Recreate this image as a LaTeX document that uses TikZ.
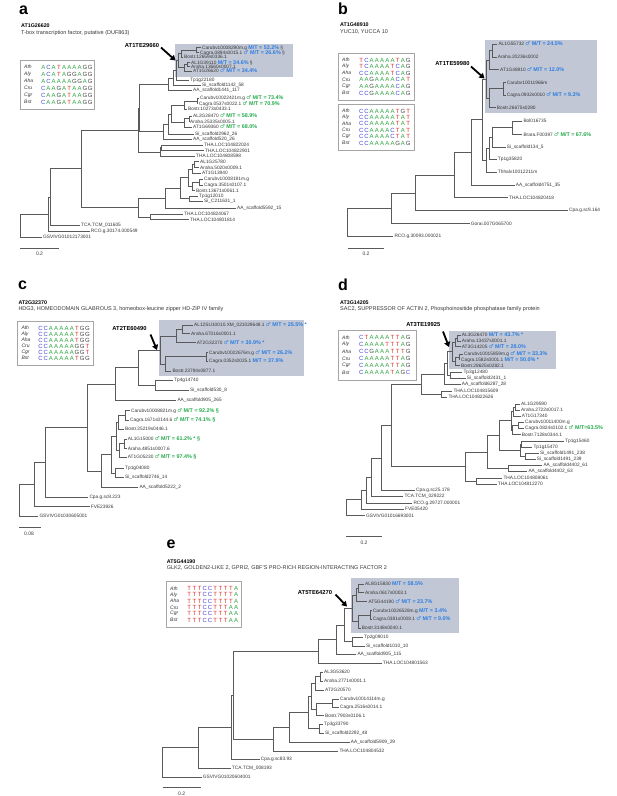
\documentclass[tikz,border=0pt]{standalone}
\usepackage{fontspec}
\setmainfont{Liberation Sans}
\newfontfamily\symfont{DejaVu Sans}
\usetikzlibrary{arrows.meta,calc}
\definecolor{teboxcol}{RGB}{193,199,212}
\definecolor{mtblue}{RGB}{45,125,225}
\definecolor{mtgreen}{RGB}{35,170,75}
\definecolor{brgrey}{RGB}{90,90,90}
\definecolor{labgrey}{RGB}{55,55,55}
\definecolor{boxgrey}{RGB}{165,165,165}
\definecolor{ntAcol}{RGB}{45,165,65}
\definecolor{ntCcol}{RGB}{70,70,215}
\definecolor{ntGcol}{RGB}{70,70,70}
\definecolor{ntTcol}{RGB}{220,45,45}
\newcommand\malesym{{\symfont\char"2642}}
\newcommand\mtb[1]{{\fontsize{5.4}{6}\selectfont\bfseries\color{mtblue}#1}}
\newcommand\mtg[1]{{\fontsize{5.4}{6}\selectfont\bfseries\color{mtgreen}#1}}
\newcommand\ntA{\textcolor{ntAcol}{A}}
\newcommand\ntC{\textcolor{ntCcol}{C}}
\newcommand\ntG{\textcolor{ntGcol}{G}}
\newcommand\ntT{\textcolor{ntTcol}{T}}
\makeatletter
\newcommand\dnaseq[1]{\dnaseq@#1\relax}
\def\dnaseq@#1{\ifx\relax#1\else\makebox[5.2pt]{\csname nt#1\endcsname}\expandafter\dnaseq@\fi}
\makeatother
\newcommand\leafat[4]{\coordinate (#1) at (#2,#3);\node[leaf] (#1L) at (#1) {#4};}
\newcommand\joinat[4]{%
  \coordinate (tmpa) at ($(#3)!0.5!(#4)$);
  \path let \p1=(tmpa) in coordinate (#1) at (#2pt,\y1);
  \draw[br] (#1) |- (#3);
  \draw[br] (#1) |- (#4);}
\newcommand\alrow[5]{\node[spl] (#1s) at (#2+4,#3) {#4};\node[sql] (#1q) at (#2+20.5,#3) {\dnaseq{#5}};}
\tikzset{
  br/.style={draw=brgrey,line width=0.75pt},
  tebox/.style={fill=teboxcol},
  leaf/.style={anchor=west,inner sep=0pt,xshift=1pt,text=labgrey,font=\fontsize{4.8}{5}\selectfont},
  spl/.style={anchor=west,inner sep=0pt,text=labgrey,font=\fontsize{5}{5}\selectfont\itshape},
  sql/.style={anchor=west,inner sep=0pt,font=\fontsize{6}{6}\selectfont},
  albox/.style={draw=boxgrey,line width=0.8pt,fill=white},
  plet/.style={anchor=base west,inner sep=0pt,font=\fontsize{16}{16}\selectfont\bfseries},
  ttl/.style={anchor=west,inner sep=0pt,font=\fontsize{5.3}{6}\selectfont\bfseries},
  dsc/.style={anchor=west,inner sep=0pt,text=labgrey,font=\fontsize{5.5}{6}\selectfont},
  tel/.style={inner sep=0pt,font=\fontsize{5.8}{6}\selectfont\bfseries},
  bigarrow/.style={-{Triangle[length=5pt,width=6pt]},line width=1.8pt,black},
  scl/.style={draw=brgrey,line width=0.8pt},
  sclab/.style={inner sep=0pt,text=labgrey,font=\fontsize{5}{5}\selectfont}
}
\begin{document}
\begin{tikzpicture}[x=1pt,y=-1pt]
\useasboundingbox[fill=white] (0,0) rectangle (617,796);

%%%%%%%%%%%%%%%% PANEL A
\node[plet] (aLet) at (19,14) {a};
\node[ttl] (aT1) at (21,25.7) {AT1G26620};
\node[dsc] (aT2) at (21,33) {T-box transcription factor, putative (DUF863)};
\draw[albox] (20,60) rectangle (94,109);
\alrow{aR1}{20}{67}{Ath}{ACATAAAAGG}
\alrow{aR2}{20}{74}{Aly}{ACATAGGAGG}
\alrow{aR3}{20}{81}{Aha}{ACAAAAGGAG}
\alrow{aR4}{20}{88}{Cru}{CAAGATAAGG}
\alrow{aR5}{20}{95}{Cgr}{CAAGATAAGG}
\alrow{aR6}{20}{102}{Bst}{CAAGATAAGG}
\path[tebox] (175,43.5) rectangle (293,77);
\leafat{a1}{201}{47.7}{Carubv10008290m.g \mtb{M/T = 53.2\%} \S}
\leafat{a2}{199}{52.7}{Cagra.0894s0015.1 \mtb{\malesym\ M/T = 26.6\%} \S}
\leafat{a3}{183}{57.3}{Bostr.12659s0336.1}
\leafat{a4}{190}{62.3}{AL1G39110 \mtb{M/T = 34.6\%} \S}
\leafat{a5}{190}{66.7}{Araha.13660s0007.1}
\leafat{a6}{192}{71}{AT1G26620 \mtb{\malesym\ M/T = 34.4\%}}
\leafat{a7}{189}{80.7}{Tp1g22180}
\leafat{a8}{201}{85.7}{Si\_scaffold1142\_58}
\leafat{a9}{192}{90.7}{AA\_scaffold1441\_117}
\leafat{a10}{199}{98.3}{Carubv10022421m.g \mtg{\malesym\ M/T = 73.4\%}}
\leafat{a11}{198}{103.7}{Cagra.0537s0022.1 \mtg{\malesym\ M/T = 70.9\%}}
\leafat{a12}{187}{109}{Bostr.10273s0433.1}
\leafat{a13}{192}{116}{AL2G28470 \mtg{\malesym\ M/T = 58.9\%}}
\leafat{a14}{189}{121.3}{Araha.25335s0005.1}
\leafat{a15}{192}{127}{AT1G69360 \mtg{\malesym\ M/T = 68.0\%}}
\leafat{a16}{194}{134}{Si\_scaffold2962\_26}
\leafat{a17}{192}{139.3}{AA\_scaffold520\_26}
\leafat{a18}{203}{145}{THA.LOC104822024}
\leafat{a19}{204}{150.7}{THA.LOC104822901}
\leafat{a20}{195}{156.3}{THA.LOC104808598}
\leafat{a21}{199}{161.7}{AL1G25780}
\leafat{a22}{199}{167.7}{Araha.5020s0009.1}
\leafat{a23}{201}{173.3}{AT1G13940}
\leafat{a24}{203}{179.3}{Carubv10008191m.g}
\leafat{a25}{203}{185}{Cagra.3501s0107.1}
\leafat{a26}{195}{190.7}{Bostr.13671s0061.1}
\leafat{a27}{198}{196}{Tp1g12010}
\leafat{a28}{203}{201.7}{Si\_C211631\_1}
\leafat{a29}{236}{208}{AA\_scaffold5592\_15}
\leafat{a30}{183}{214.3}{THA.LOC104824067}
\leafat{a31}{189}{219.7}{THA.LOC104801814}
\leafat{a32}{80}{225}{TCA.TCM\_011605}
\leafat{a33}{89.7}{231.7}{RCO.g.30174.000549}
\leafat{a34}{42}{237.3}{GSVIVG01012173001}
\joinat{ac1}{196.7}{a1}{a2}
\joinat{ac2}{181.7}{ac1}{a3}
\joinat{ac3}{187.7}{a4}{a5}
\joinat{ac4}{184.3}{ac3}{a6}
\joinat{ac5}{178.3}{ac2}{ac4}
\joinat{ac6}{176}{ac5}{a7}
\joinat{ac7}{173.3}{ac6}{a8}
\joinat{ac8}{168.3}{ac7}{a9}
\joinat{am1}{197}{a10}{a11}
\joinat{am2}{184.3}{am1}{a12}
\joinat{am3}{189.3}{a13}{a14}
\joinat{am4}{184.3}{am3}{a15}
\joinat{am5}{171.7}{am2}{am4}
\joinat{am6}{168.3}{am5}{a16}
\joinat{am7}{163.3}{am6}{a17}
\joinat{ap1}{139.3}{ac8}{am7}
\joinat{at1}{161.7}{a18}{a19}
\joinat{at2}{160}{at1}{a20}
\joinat{ap2}{138}{ap1}{at2}
\joinat{al1}{194.3}{a21}{a22}
\joinat{al2}{192.7}{al1}{a23}
\joinat{al3}{199.3}{a24}{a25}
\joinat{al4}{192.7}{al3}{a26}
\joinat{al5}{188.3}{al2}{al4}
\joinat{al6}{189.3}{a27}{a28}
\joinat{al7}{180}{al5}{al6}
\joinat{al8}{165.7}{al7}{a29}
\joinat{al9}{150}{a30}{a31}
\joinat{alr}{138.3}{al8}{al9}
\joinat{arr}{81.7}{ap2}{alr}
\joinat{ass}{50}{arr}{a32}
\joinat{att}{48}{ass}{a33}
\joinat{aroot}{20}{att}{a34}
\node[tel] (aTE) at (142,45.5) {AT1TE29660};
\coordinate (aAs) at (161,47.5); \coordinate (aAe) at (175.5,60.5);
\draw[bigarrow] (aAs) -- (aAe);
\coordinate (aS1) at (20,248.3); \coordinate (aS2) at (59,248.3);
\draw[scl] (aS1) -- (aS2);
\node[sclab] (aSL) at (39.5,254) {0.2};

%%%%%%%%%%%%%%%% PANEL B
\node[plet] (bLet) at (338,14) {b};
\node[ttl] (bT1) at (340,24.5) {AT1G48910};
\node[dsc] (bT2) at (340,31.5) {YUC10, YUCCA 10};
\draw[albox] (338,53) rectangle (414,100);
\alrow{bR1}{338}{60}{Ath}{TCAAAAATAG}
\alrow{bR2}{338}{66.6}{Aly}{TCAAAATCAG}
\alrow{bR3}{338}{73.2}{Aha}{CCAAAATCAG}
\alrow{bR4}{338}{79.8}{Cru}{AAGAAAACAT}
\alrow{bR5}{338}{86.4}{Cgr}{AAGAAAACAG}
\alrow{bR6}{338}{93}{Bst}{CCGAAAACAG}
\draw[albox] (338,104) rectangle (414,150);
\alrow{bQ1}{338}{111}{Ath}{CCAAAAATGT}
\alrow{bQ2}{338}{117.4}{Aly}{CCAAAAATAT}
\alrow{bQ3}{338}{123.8}{Aha}{CCAAAAATAT}
\alrow{bQ4}{338}{130.2}{Cru}{CCAAAACTAT}
\alrow{bQ5}{338}{136.6}{Cgr}{CCAAAACTAT}
\alrow{bQ6}{338}{143}{Bst}{CCAAAAAGAG}
\path[tebox] (485,39.5) rectangle (597,113);
\leafat{b1}{497.3}{44}{AL1G55732 \mtb{\malesym\ M/T = 24.5\%}}
\leafat{b2}{496.7}{57}{Araha.20236s0002}
\leafat{b3}{499}{69.3}{AT1G48910 \mtb{\malesym\ M/T = 12.0\%}}
\leafat{b4}{505.7}{82.7}{Carubv10011966m}
\leafat{b5}{505.7}{95}{Cagra.0932s0010 \mtb{\malesym\ M/T = 9.3\%}}
\leafat{b6}{495.7}{107.7}{Bostr.26675s0280}
\leafat{b7}{522.3}{121}{Bol016735}
\leafat{b8}{522.3}{134.3}{Brara.F00397 \mtg{\malesym\ M/T = 67.6\%}}
\leafat{b9}{505.7}{147.3}{Si\_scaffold134\_5}
\leafat{b10}{496.7}{159.3}{Tp1g35820}
\leafat{b11}{496.7}{172}{Thhalv10012211m}
\leafat{b12}{514.7}{185.3}{AA\_scaffold4751\_35}
\leafat{b13}{508}{197.7}{THA.LOC104820418}
\leafat{b14}{568}{210.7}{Cpa.g.sc9.164}
\leafat{b15}{469.7}{223.7}{Gorai.007G065700}
\leafat{b16}{393.3}{236}{RCO.g.30093.000021}
\joinat{bs1}{492}{b1}{b2}
\joinat{bs2}{489.5}{bs1}{b3}
\joinat{bs3}{503.3}{b4}{b5}
\joinat{bs4}{489.3}{bs3}{b6}
\joinat{bA}{486.5}{bs2}{bs4}
\joinat{bC}{512.7}{b7}{b8}
\joinat{bD}{492.7}{bC}{b9}
\joinat{bE}{489.3}{bD}{b10}
\joinat{bF}{486.7}{bE}{b11}
\joinat{bB}{482}{bA}{bF}
\joinat{bG}{471.7}{bB}{b12}
\joinat{bH}{454.3}{bG}{b13}
\joinat{bI}{415}{bH}{b14}
\joinat{bJ}{391}{bI}{b15}
\joinat{broot}{347.7}{bJ}{b16}
\node[tel] (bTE) at (452.5,63.5) {AT1TE59980};
\coordinate (bAs) at (471,66.5); \coordinate (bAe) at (484.5,78.5);
\draw[bigarrow] (bAs) -- (bAe);
\coordinate (bS1) at (347.7,248.3); \coordinate (bS2) at (384,248.3);
\draw[scl] (bS1) -- (bS2);
\node[sclab] (bSL) at (366,254) {0.2};

%%%%%%%%%%%%%%%% PANEL C
\node[plet] (cLet) at (18,289.5) {c};
\node[ttl] (cT1) at (18.3,302.5) {AT2G32370};
\node[dsc] (cT2) at (18.3,309) {HDG3, HOMEODOMAIN GLABROUS 3, homeobox-leucine zipper HD-ZIP IV family};
\draw[albox] (17.3,321) rectangle (93.3,365);
\alrow{cR1}{17.3}{328}{Ath}{CCAAAAATGG}
\alrow{cR2}{17.3}{334}{Aly}{CCAAAAATGG}
\alrow{cR3}{17.3}{340}{Aha}{CCAAAAATGG}
\alrow{cR4}{17.3}{346}{Cru}{CCAAAAAGGT}
\alrow{cR5}{17.3}{352}{Cgr}{CCAAAAAGGT}
\alrow{cR6}{17.3}{358}{Bst}{CCAAAAATGG}
\path[tebox] (158.5,320) rectangle (304,376);
\leafat{c1}{193}{325}{AL12SU10010.XM\_021029648.1 \mtb{\malesym\ M/T = 25.5\% *}}
\leafat{c2}{190}{333.3}{Araha.67016s0001.1}
\leafat{c3}{195.7}{342.7}{AT2G32370 \mtb{\malesym\ M/T = 30.9\% *}}
\leafat{c4}{208}{352.7}{Carubv10022676m.g \mtb{\malesym\ M/T = 26.2\%}}
\leafat{c5}{208}{361}{Cagra.0352s0025.1 \mtb{M/T = 37.9\%}}
\leafat{c6}{171.3}{371}{Bostr.23794s0877.1}
\leafat{c7}{173}{380.7}{Tp4g14740}
\leafat{c8}{189}{390.7}{Si\_scaffold530\_8}
\leafat{c9}{176.3}{400}{AA\_scaffold905\_265}
\leafat{c10}{130}{410.7}{Carubv10008821m.g \mtg{\malesym\ M/T = 92.2\% \S}}
\leafat{c11}{129}{420}{Cagra.1671s0144.6 \mtg{\malesym\ M/T = 74.1\% \S}}
\leafat{c12}{124}{429.3}{Bostr.25219s0446.1}
\leafat{c13}{126.7}{439}{AL1G15000 \mtg{\malesym\ M/T = 61.2\% * \S}}
\leafat{c14}{126.7}{448.3}{Araha.4851s0007.6}
\leafat{c15}{126.7}{457.3}{AT1G05230 \mtg{\malesym\ M/T = 97.4\% \S}}
\leafat{c16}{124}{468.3}{Tp1g04080}
\leafat{c17}{124}{477.7}{Si\_scaffold2746\_14}
\leafat{c18}{138.3}{487.3}{AA\_scaffold5222\_2}
\leafat{c19}{88.3}{497.3}{Cpa.g.sc8.223}
\leafat{c20}{89.7}{506.7}{FVE23926}
\leafat{c21}{38.3}{516}{GSVIVG01030605001}
\joinat{cc1}{206}{c4}{c5}
\joinat{cc2}{182}{c1}{c2}
\joinat{cc3}{176.7}{cc2}{c3}
\joinat{cc4}{165.7}{cc1}{c6}
\joinat{cA}{160.7}{cc3}{cc4}
\joinat{cC}{155}{c7}{c8}
\joinat{cD}{138.3}{cA}{cC}
\joinat{cE}{115}{cD}{c9}
\joinat{cF}{125}{c10}{c11}
\joinat{cG}{118.3}{cF}{c12}
\joinat{cH}{124}{c13}{c14}
\joinat{cI}{119}{cH}{c15}
\joinat{cJ}{116.7}{cG}{cI}
\joinat{cK}{115}{c16}{c17}
\joinat{cL}{111.7}{cJ}{cK}
\joinat{cM}{101}{cL}{c18}
\joinat{cN}{87.3}{cE}{cM}
\joinat{cO}{45}{cN}{c19}
\joinat{cP}{34.3}{cO}{c20}
\joinat{croot}{19}{cP}{c21}
\node[tel] (cTE) at (129.5,328.3) {AT2TE60490};
\coordinate (cAs) at (150.5,334.5); \coordinate (cAe) at (157,350);
\draw[bigarrow] (cAs) -- (cAe);
\coordinate (cS1) at (19,527.5); \coordinate (cS2) at (41,527.5);
\draw[scl] (cS1) -- (cS2);
\node[sclab] (cSL) at (29,533.5) {0.08};

%%%%%%%%%%%%%%%% PANEL D
\node[plet] (dLet) at (338,290) {d};
\node[ttl] (dT1) at (340,302.8) {AT3G14205};
\node[dsc] (dT2) at (340,309.3) {SAC2, SUPPRESSOR OF ACTIN 2, Phosphoinositide phosphatase family protein};
\draw[albox] (338,330) rectangle (416,380);
\alrow{dR1}{338}{337.5}{Ath}{CTAAAATTAG}
\alrow{dR2}{338}{344.5}{Aly}{CAAAATTTAG}
\alrow{dR3}{338}{351.5}{Aha}{CCGAAATTTG}
\alrow{dR4}{338}{358.5}{Cru}{CAAAAATTAG}
\alrow{dR5}{338}{365.5}{Cgr}{CAAAAATTAG}
\alrow{dR6}{338}{372.5}{Bst}{CAAAAATAGC}
\path[tebox] (449,331) rectangle (555.7,368.5);
\leafat{d1}{460.7}{335}{AL3G26470 \mtb{M/T = 43.7\% *}}
\leafat{d2}{460.7}{341}{Araha.13437s0001.1}
\leafat{d3}{460.7}{346.7}{AT3G14205 \mtb{\malesym\ M/T = 28.0\%}}
\leafat{d4}{463}{354.3}{Carubv10015859m.g \mtb{\malesym\ M/T = 33.3\%}}
\leafat{d5}{460}{359.7}{Cagra.1582s0001.1 \mtb{M/T = 50.0\% *}}
\leafat{d6}{460}{365.7}{Bostr.28625s0282.1}
\leafat{d7}{462.3}{372.7}{Tp3g12480}
\leafat{d8}{465.7}{378.3}{Si\_scaffold2431\_1}
\leafat{d9}{460.7}{384.3}{AA\_scaffold6287\_28}
\leafat{d10}{452.3}{391}{THA.LOC104815609}
\leafat{d11}{447.3}{397.3}{THA.LOC104822626}
\leafat{d12}{520}{404}{AL1G29590}
\leafat{d13}{520}{410}{Araha.2722s0017.1}
\leafat{d14}{520.7}{416}{AT1G17340}
\leafat{d15}{524}{422.3}{Carubv10011400m.g}
\leafat{d16}{524}{428.3}{Cagra.0824s0102.1 \mtg{\malesym\ M/T=63.5\%}}
\leafat{d17}{520.7}{434.7}{Bostr.7128s0344.1}
\leafat{d18}{564}{441}{Tp1g15460}
\leafat{d19}{532.3}{447}{Tp1g15470}
\leafat{d20}{539}{453.3}{Si\_scaffold1491\_238}
\leafat{d21}{535.7}{459.3}{Si\_scaffold1491\_239}
\leafat{d22}{542.3}{465.7}{AA\_scaffold4402\_61}
\leafat{d23}{527.3}{471.7}{AA\_scaffold4402\_63}
\leafat{d24}{502.3}{478.3}{THA.LOC104808061}
\leafat{d25}{496.7}{484.3}{THA.LOC104812270}
\leafat{d26}{415}{490.7}{Cpa.g.sc25.178}
\leafat{d27}{403.3}{496.7}{TCA.TCM\_029222}
\leafat{d28}{412.3}{503.3}{RCO.g.29727.000001}
\leafat{d29}{404}{509.3}{FVE05420}
\leafat{d30}{365}{515.7}{GSVIVG01016693001}
\joinat{dd1}{457}{d1}{d2}
\joinat{dd2}{455}{dd1}{d3}
\joinat{dd3}{459}{d4}{d5}
\joinat{dd4}{455.7}{dd3}{d6}
\joinat{dA}{452}{dd2}{dd4}
\joinat{dC}{450}{d7}{d8}
\joinat{dB}{447}{dA}{dC}
\joinat{dD}{444}{dB}{d9}
\joinat{dE}{441.7}{d10}{d11}
\joinat{dF}{421.7}{dD}{dE}
\joinat{dI}{515.7}{d12}{d13}
\joinat{dJ}{513.3}{dI}{d14}
\joinat{dK}{518.3}{d15}{d16}
\joinat{dL}{512.3}{dK}{d17}
\joinat{dM}{511}{dJ}{dL}
\joinat{dN}{521.7}{d18}{d19}
\joinat{dO}{525}{d20}{d21}
\joinat{dP}{520}{dN}{dO}
\joinat{dQ}{499.3}{dM}{dP}
\joinat{dR}{508.3}{d22}{d23}
\joinat{dS}{487.7}{dQ}{dR}
\joinat{dT}{476.7}{d24}{d25}
\joinat{dH}{465}{dS}{dT}
\joinat{dG}{391}{dF}{dH}
\joinat{dU}{381.7}{dG}{d26}
\joinat{dV}{371.7}{dU}{d27}
\joinat{dW}{366.7}{dV}{d28}
\joinat{dX}{361.7}{dW}{d29}
\joinat{droot}{346.7}{dX}{d30}
\node[tel] (dTE) at (423.3,325) {AT3TE19925};
\coordinate (dAs) at (443,331.5); \coordinate (dAe) at (449,347);
\draw[bigarrow] (dAs) -- (dAe);
\coordinate (dS1) at (346,536.5); \coordinate (dS2) at (382,536.5);
\draw[scl] (dS1) -- (dS2);
\node[sclab] (dSL) at (364,542.5) {0.2};

%%%%%%%%%%%%%%%% PANEL E
\node[plet] (eLet) at (166.5,548) {e};
\node[ttl] (eT1) at (166.7,561.8) {AT5G44190};
\node[dsc] (eT2) at (166.7,568.4) {GLK2, GOLDEN2-LIKE 2, GPRI2, GBF'S PRO-RICH REGION-INTERACTING FACTOR 2};
\draw[albox] (166,581.7) rectangle (241,627);
\alrow{eR1}{166}{588.5}{Ath}{TTTCCTTTTA}
\alrow{eR2}{166}{594.8}{Aly}{TTTCCTTTTA}
\alrow{eR3}{166}{601.1}{Aha}{TTTCCTTTTA}
\alrow{eR4}{166}{607.4}{Cru}{TTTCCTTTAA}
\alrow{eR5}{166}{613.7}{Cgr}{TTTCCTTTAA}
\alrow{eR6}{166}{620}{Bst}{TTTCCTTTAA}
\path[tebox] (350.7,578.3) rectangle (459.3,633);
\leafat{e1}{364}{584}{AL8G15830 \mtb{M/T = 58.5\%}}
\leafat{e2}{364}{592.7}{Araha.0617s0003.1}
\leafat{e3}{367.3}{601.7}{AT5G44190 \mtb{\malesym\ M/T = 23.7\%}}
\leafat{e4}{371.7}{610.7}{Carubv10026528m.g \mtb{M/T = 3.4\%}}
\leafat{e5}{371.7}{619.3}{Cagra.0381s0008.1 \mtb{\malesym\ M/T = 9.0\%}}
\leafat{e6}{360.7}{628.3}{Bostr.3148s0040.1}
\leafat{e7}{363}{637.3}{Tp2g09010}
\leafat{e8}{365}{646}{Si\_scaffold1010\_10}
\leafat{e9}{356.3}{654.3}{AA\_scaffold905\_115}
\leafat{e10}{381.7}{663.3}{THA.LOC104801563}
\leafat{e11}{323}{672.3}{AL3G53620}
\leafat{e12}{323}{681}{Araha.2771s0001.1}
\leafat{e13}{324}{690}{AT2G20570}
\leafat{e14}{339}{699}{Carubv10014114m.g}
\leafat{e15}{339}{707.3}{Cagra.2516s0014.1}
\leafat{e16}{324}{715.7}{Bostr.7903s0106.1}
\leafat{e17}{323}{724.3}{Tp3g33790}
\leafat{e18}{324}{733.3}{Si\_scaffold2292\_48}
\leafat{e19}{349.7}{742.3}{AA\_scaffold5909\_29}
\leafat{e20}{338.3}{751}{THA.LOC104804532}
\leafat{e21}{259.7}{759.3}{Cpa.g.sc83.93}
\leafat{e22}{230.7}{768.3}{TCA.TCM\_008193}
\leafat{e23}{201.7}{777.3}{GSVIVG01020604001}
\joinat{ee1}{358.3}{e1}{e2}
\joinat{ee2}{356}{ee1}{e3}
\joinat{ee3}{370}{e4}{e5}
\joinat{ee4}{358}{ee3}{e6}
\joinat{eA}{352.5}{ee2}{ee4}
\joinat{eC}{352}{e7}{e8}
\joinat{eB}{344}{eA}{eC}
\joinat{eD}{336.7}{eB}{e9}
\joinat{eE}{318.3}{eD}{e10}
\joinat{eH}{320}{e11}{e12}
\joinat{eI}{315.7}{eH}{e13}
\joinat{eJ}{332.7}{e14}{e15}
\joinat{eK}{316.7}{eJ}{e16}
\joinat{eL}{311.7}{eI}{eK}
\joinat{eM}{319}{e17}{e18}
\joinat{eN}{308.3}{eL}{eM}
\joinat{eO}{289}{eN}{e19}
\joinat{eG}{273.3}{eO}{e20}
\joinat{eF}{233.5}{eE}{eG}
\joinat{eQ}{231.7}{eF}{e21}
\joinat{eR}{198.3}{eQ}{e22}
\joinat{eroot}{162.7}{eR}{e23}
\node[tel] (eTE) at (315,592) {AT5TE64270};
\coordinate (eAs) at (335.5,594.5); \coordinate (eAe) at (347,606.5);
\draw[bigarrow] (eAs) -- (eAe);
\coordinate (eS1) at (162.7,787.7); \coordinate (eS2) at (201,787.7);
\draw[scl] (eS1) -- (eS2);
\node[sclab] (eSL) at (181.7,793.3) {0.2};
\end{tikzpicture}
\end{document}
